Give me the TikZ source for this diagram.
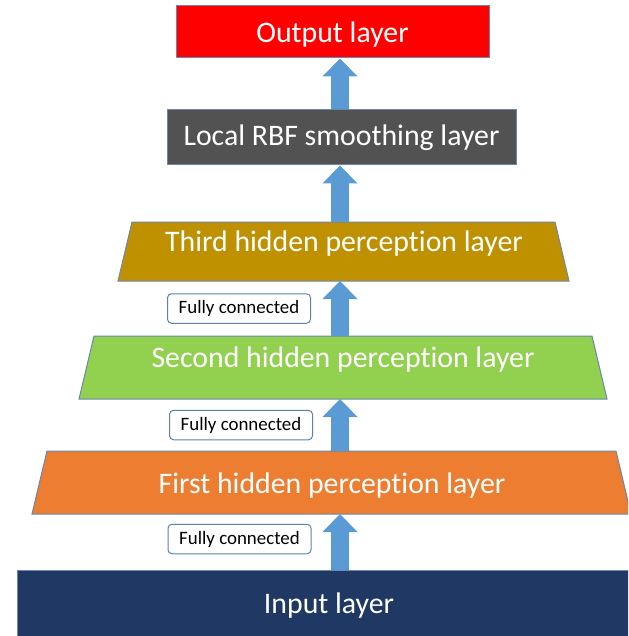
\documentclass[tikz,border=0pt]{standalone}
\usepackage{fontspec}
\setmainfont[Ligatures={NoCommon,NoContextual}]{Carlito}
\usetikzlibrary{arrows.meta}
\definecolor{outred}{HTML}{FF0000}
\definecolor{rbfgray}{HTML}{525252}
\definecolor{thirdgold}{HTML}{BF9000}
\definecolor{secgreen}{HTML}{92D050}
\definecolor{firstorange}{HTML}{ED7D31}
\definecolor{inputblue}{HTML}{203864}
\definecolor{arrowblue}{HTML}{5B9BD5}
\definecolor{edgeblue}{HTML}{6A88AE}
\definecolor{fcedge}{HTML}{5F82AA}
\newcommand{\perc}{percept\kern0pt ion}
\begin{document}
\begin{tikzpicture}[x=1pt,y=-1pt,
  layerbox/.style={draw=edgeblue, line width=1pt, inner sep=0pt},
  trapframe/.style={inner sep=0pt, outer sep=0pt},
  trapfill/.style={draw=edgeblue, line width=1pt},
  layertext/.style={text=white, font=\fontsize{29.8}{34}\selectfont, anchor=base, inner sep=0pt},
  fcbox/.style={draw=fcedge, fill=white, rounded corners=4pt, line width=1pt,
    minimum width=143pt, minimum height=29.5pt, inner sep=0pt,
    font=\fontsize{18.9}{22}\selectfont},
  uparrow/.style={arrowblue, line width=18pt,
    -{Triangle[width=35pt,length=18pt,line width=0pt]}}
]
\useasboundingbox (0,0) rectangle (628,636);
\clip (0,0) rectangle (628,636);
\coordinate (ax) at (340,0);

% rectangular layers
\node[layerbox, fill=outred, minimum width=313pt, minimum height=52pt] (output) at (332.5,32) {};
\node[layerbox, fill=rbfgray, minimum width=349pt, minimum height=55pt] (rbf) at (341.5,137.5) {};
\node[layerbox, fill=inputblue, minimum width=626pt, minimum height=80pt] (input) at (330,610) {};

% trapezoid layers
\node[trapframe, minimum width=451pt, minimum height=59pt] (third) at (343.5,251.5) {};
\node[trapframe, minimum width=528pt, minimum height=63pt] (second) at (343,367.5) {};
\node[trapframe, minimum width=599pt, minimum height=63pt] (first) at (331.5,482.5) {};
\draw[trapfill, fill=thirdgold] (third.south west) -- (third.south east)
  -- ([xshift=-14pt]third.north east) -- ([xshift=14pt]third.north west) -- cycle;
\draw[trapfill, fill=secgreen] (second.south west) -- (second.south east)
  -- ([xshift=-15pt]second.north east) -- ([xshift=15pt]second.north west) -- cycle;
\draw[trapfill, fill=firstorange] (first.south west) -- (first.south east)
  -- ([xshift=-15pt]first.north east) -- ([xshift=15pt]first.north west) -- cycle;

% layer texts
\node[layertext] (outputtxt) at (332.5,43) {Output layer};
\node[layertext] (rbftxt) at (341.5,146) {Local RBF smoothing layer};
\node[layertext] (thirdtxt) at (344,251) {Third hidden \perc{} layer};
\node[layertext] (secondtxt) at (343,367) {Second hidden \perc{} layer};
\node[layertext] (firsttxt) at (332,493) {First hidden \perc{} layer};
\node[layertext] (inputtxt) at (329,613) {Input layer};

% labels
\node[fcbox] (fc3) at (239,308.5) {Fully connected};
\node[fcbox] (fc2) at (241,425) {Fully connected};
\node[fcbox] (fc1) at (239.5,539) {Fully connected};

% arrows
\draw[uparrow] (rbf.north -| ax) -- (output.south -| ax);
\draw[uparrow] (third.north -| ax) -- (rbf.south -| ax);
\draw[uparrow] (second.north -| ax) -- (third.south -| ax);
\draw[uparrow] (first.north -| ax) -- (second.south -| ax);
\draw[uparrow] (input.north -| ax) -- (first.south -| ax);
\end{tikzpicture}
\end{document}
